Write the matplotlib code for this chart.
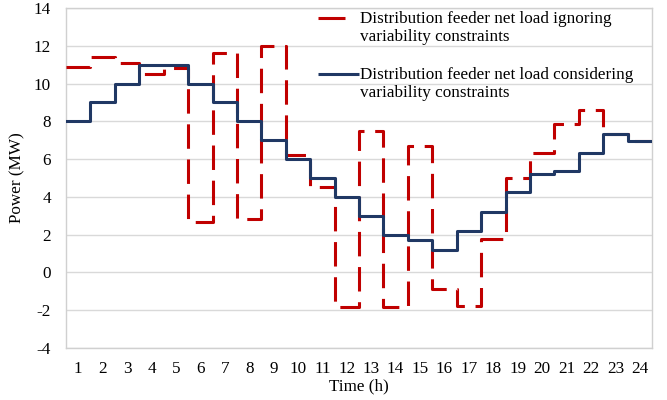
import numpy as np
import matplotlib
matplotlib.use('Agg')
import matplotlib.pyplot as plt

# hourly net load (MW), hours 1..24
hours = np.arange(1, 25)
ignoring = [10.9, 11.4, 11.1, 10.5, 10.8, 2.65, 11.6, 2.85, 12.0, 6.2, 4.55, -1.85,
            7.5, -1.85, 6.7, -0.9, -1.8, 1.75, 5.0, 6.3, 7.85, 8.6, 7.35, 6.95]
considering = [8.0, 9.0, 10.0, 11.0, 11.0, 10.0, 9.0, 8.0, 7.0, 6.0, 5.0, 4.0,
               3.0, 2.0, 1.7, 1.2, 2.2, 3.2, 4.25, 5.2, 5.35, 6.35, 7.35, 6.95]
label_ign = 'Distribution feeder net load ignoring\nvariability constraints'
label_con = 'Distribution feeder net load considering\nvariability constraints'

plt.rcParams['font.family'] = ['Liberation Serif', 'DejaVu Serif']
plt.rcParams['axes.unicode_minus'] = False
red = '#C00000'
navy = '#203864'
fs = 12.3

fig = plt.figure(figsize=(6.67, 4.0), dpi=100)
ax = fig.add_axes([0.099, 0.13, 0.8785, 0.85])

# step lines: each hour holds its value from h-1 to h
x = np.arange(0, 25)
ax.step(x, ignoring + [ignoring[-1]], where='post', color=red, lw=2.2,
        dashes=(8, 3.5), zorder=3)
ax.step(x, considering + [considering[-1]], where='post', color=navy, lw=2.2, zorder=4)

ax.set_xlim(0, 24)
ax.set_ylim(-4, 14)
ax.set_yticks(np.arange(-4, 15, 2))
ax.set_xticks(hours - 0.5)
ax.set_xticklabels([str(h) for h in hours])
ax.tick_params(axis='both', length=0, labelsize=fs)
ax.tick_params(axis='x', pad=9.5)
ax.tick_params(axis='y', pad=11)
ax.grid(axis='y', color='#d9d9d9', lw=1)
ax.set_axisbelow(True)
for s in ax.spines.values():
    s.set_color('#d0d0d0')
    s.set_linewidth(1)

ax.set_xlabel('Time (h)', fontsize=fs, labelpad=1)
ax.set_ylabel('Power (MW)', fontsize=fs, labelpad=6)

# legend drawn by hand so the handle sits on the first text line
ax.plot([0.430, 0.476], [0.971, 0.971], transform=ax.transAxes, color=red,
        lw=2.2, solid_capstyle='butt', zorder=5)
ax.text(0.502, 0.941, label_ign, transform=ax.transAxes, fontsize=fs,
        va='center', ha='left', linespacing=1.12)
ax.plot([0.430, 0.500], [0.806, 0.806], transform=ax.transAxes, color=navy,
        lw=2.2, solid_capstyle='butt', zorder=5)
ax.text(0.502, 0.776, label_con, transform=ax.transAxes, fontsize=fs,
        va='center', ha='left', linespacing=1.12)

fig.savefig('out.png', dpi=100)
